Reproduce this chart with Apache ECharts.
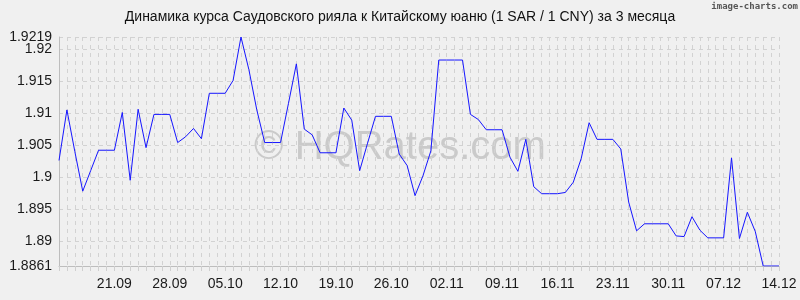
<!DOCTYPE html>
<html>
<head>
<meta charset="utf-8">
<script src="https://cdn.jsdelivr.net/npm/echarts@6/dist/echarts.min.js"></script>
<style>
html,body{margin:0;padding:0;background:#f0f0f0;}
#chart{width:800px;height:300px;}
</style>
</head>
<body>
<div id="chart"></div>
<script>
var titleText = 'Динамика курса Саудовского рияла к Китайскому юаню (1 SAR / 1 CNY) за 3 месяца';

var categories = [
 '14.09','15.09','16.09','17.09','18.09','19.09','20.09','21.09','22.09','23.09','24.09','25.09','26.09','27.09','28.09','29.09','30.09',
 '01.10','02.10','03.10','04.10','05.10','06.10','07.10','08.10','09.10','10.10','11.10','12.10','13.10','14.10','15.10','16.10','17.10','18.10','19.10','20.10','21.10','22.10','23.10','24.10','25.10','26.10','27.10','28.10','29.10','30.10','31.10',
 '01.11','02.11','03.11','04.11','05.11','06.11','07.11','08.11','09.11','10.11','11.11','12.11','13.11','14.11','15.11','16.11','17.11','18.11','19.11','20.11','21.11','22.11','23.11','24.11','25.11','26.11','27.11','28.11','29.11','30.11',
 '01.12','02.12','03.12','04.12','05.12','06.12','07.12','08.12','09.12','10.12','11.12','12.12','13.12','14.12'
];

var rates = [
 1.9026,1.9105,1.9040,1.8978,1.9010,1.9042,1.9042,1.9042,1.9101,1.8995,
 1.9106,1.9046,1.9098,1.9098,1.9098,1.9054,1.9063,1.9076,1.9060,1.9131,
 1.9131,1.9131,1.9151,1.9219,1.9168,1.9105,1.9054,1.9054,1.9054,1.9115,
 1.9177,1.9075,1.9066,1.9038,1.9038,1.9038,1.9108,1.9089,1.9010,1.9053,
 1.9095,1.9095,1.9095,1.9036,1.9018,1.8971,1.9002,1.9041,1.9183,1.9183,
 1.9183,1.9183,1.9098,1.9090,1.9074,1.9074,1.9074,1.9031,1.9009,1.9059,
 1.8985,1.8974,1.8974,1.8974,1.8976,1.8992,1.9029,1.9085,1.9059,1.9059,
 1.9059,1.9044,1.8961,1.8916,1.8927,1.8927,1.8927,1.8927,1.8908,1.8907,
 1.8938,1.8917,1.8905,1.8905,1.8905,1.9030,1.8904,1.8945,1.8915,1.8861,
 1.8861,1.8861
];

var yTicks = [1.8861, 1.89, 1.895, 1.9, 1.905, 1.91, 1.915, 1.92, 1.9219];
var yMainLabels = [1.8861, 1.89, 1.895, 1.9, 1.905, 1.91, 1.915, 1.92];
var yTopLabel = [1.9219];
var yMin = 1.8861;
var yMax = 1.9219;

var chart = echarts.init(document.getElementById('chart'), null, {renderer: 'canvas'});
var font = "'Liberation Sans', Arial, sans-serif";
function fmt(v) { return String(+v.toFixed(4)); }
var labelBase = {color: '#1a1a1a', fontSize: 14, margin: 7, fontFamily: font, formatter: fmt,
                 hideOverlap: false, showMinLabel: true, showMaxLabel: true};
chart.setOption({
  animation: false,
  backgroundColor: '#f0f0f0',
  textStyle: {fontFamily: font},
  grid: {left: 59, right: 21, top: 37, bottom: 34, containLabel: false},
  graphic: [
    {type: 'text', left: 'center', top: 10, z: 10,
     style: {text: titleText, fontSize: 14, fontFamily: font, fill: '#111'}},
    {type: 'text', right: 2, top: 2, z: 10,
     style: {text: 'image-charts.com', fontSize: 9, fontWeight: 'bold', fontFamily: "'DejaVu Sans Mono', monospace", fill: '#555'}},
    {type: 'text', x: 400, y: 148, z: 0, silent: true,
     style: {text: '© HQRates.com', fontSize: 40, fontFamily: font, fill: '#cacaca', align: 'center', verticalAlign: 'middle'}}
  ],
  xAxis: {
    type: 'category',
    data: categories,
    boundaryGap: false,
    axisLine: {lineStyle: {color: '#bdbdbd', width: 1}},
    axisTick: {show: true, interval: 0, length: 5, lineStyle: {color: '#cfcfcf'}},
    axisLabel: {
      interval: function (index) { return index > 0 && index % 7 === 0; },
      color: '#1a1a1a', fontSize: 14, margin: 11, fontFamily: font
    },
    splitLine: {show: true, interval: 0, lineStyle: {color: '#d2d2d2', type: [4, 4], width: 1}}
  },
  yAxis: [{
    type: 'value',
    min: yMin,
    max: yMax,
    splitNumber: 7,
    axisLine: {show: true, lineStyle: {color: '#bdbdbd', width: 1}},
    axisTick: {show: false, customValues: yTicks},
    axisLabel: Object.assign({customValues: yMainLabels}, labelBase),
    splitLine: {show: true, lineStyle: {color: '#d2d2d2', type: [4, 4], width: 1}}
  }, {
    type: 'value',
    position: 'left',
    min: yMin,
    max: yMax,
    axisLine: {show: false},
    axisTick: {show: false, customValues: yTopLabel},
    axisLabel: Object.assign({customValues: yTopLabel}, labelBase),
    splitLine: {show: false}
  }],
  series: [{
    type: 'line',
    data: rates,
    yAxisIndex: 0,
    symbol: 'none',
    z: 5,
    lineStyle: {color: '#1515ff', width: 1}
  }]
});
</script>
</body>
</html>
